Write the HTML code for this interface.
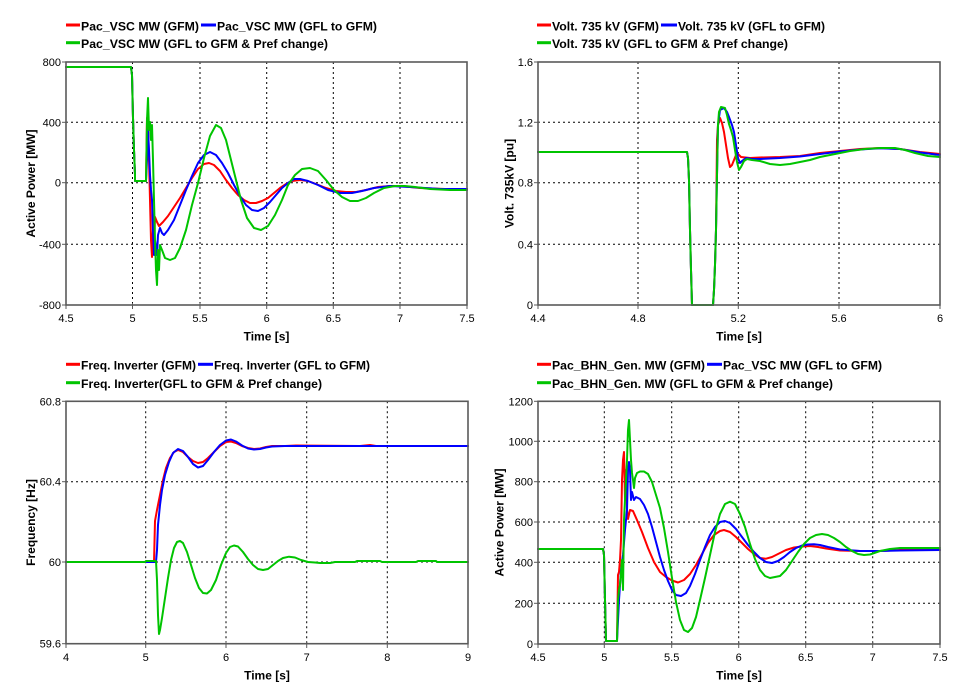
<!DOCTYPE html>
<html><head><meta charset="utf-8"><style>
html,body{margin:0;padding:0;background:#fff;}
svg{display:block;}
.t{font-family:"Liberation Sans",Arial,sans-serif;font-size:11px;fill:#000;}
.b{font-family:"Liberation Sans",Arial,sans-serif;font-size:12px;font-weight:bold;fill:#000;}
.g{stroke:#000;stroke-width:1;stroke-dasharray:2,3;fill:none;}
.f{stroke:#5a5a5a;stroke-width:1.6;fill:none;}
.k{stroke:#5a5a5a;stroke-width:1;}
.s{fill:none;stroke-width:2;stroke-linejoin:round;stroke-linecap:round;}
.r{stroke:#ff0000;} .u{stroke:#0000ff;} .n{stroke:#00c400;}
</style></head><body>
<svg width="969" height="686" viewBox="0 0 969 686" xmlns="http://www.w3.org/2000/svg">
<rect width="969" height="686" fill="#fff"/>

<!-- ================= TOP LEFT ================= -->
<rect x="66" y="23.5" width="14" height="3" fill="#ff0000"/>
<text class="b" x="81" y="30.5" textLength="118" lengthAdjust="spacingAndGlyphs">Pac_VSC MW (GFM)</text>
<rect x="201" y="23.5" width="15" height="3" fill="#0000ff"/>
<text class="b" x="217" y="30.5" textLength="160" lengthAdjust="spacingAndGlyphs">Pac_VSC MW (GFL to GFM)</text>
<rect x="66" y="41.2" width="14" height="3" fill="#00c400"/>
<text class="b" x="81" y="48" textLength="247" lengthAdjust="spacingAndGlyphs">Pac_VSC MW (GFL to GFM &amp; Pref change)</text>

<g class="g">
<line x1="132.5" y1="62" x2="132.5" y2="305"/><line x1="200" y1="62" x2="200" y2="305"/>
<line x1="266.7" y1="62" x2="266.7" y2="305"/><line x1="333.3" y1="62" x2="333.3" y2="305"/>
<line x1="400" y1="62" x2="400" y2="305"/>
<line x1="66" y1="122.3" x2="467" y2="122.3"/><line x1="66" y1="182.7" x2="467" y2="182.7"/>
<line x1="66" y1="244.3" x2="467" y2="244.3"/>
</g>
<g class="k">
<line x1="62" y1="62" x2="68" y2="62"/><line x1="62" y1="122.3" x2="68" y2="122.3"/><line x1="62" y1="182.7" x2="68" y2="182.7"/><line x1="62" y1="244.3" x2="68" y2="244.3"/><line x1="62" y1="305" x2="68" y2="305"/>
<line x1="66" y1="303" x2="66" y2="309"/><line x1="132.5" y1="303" x2="132.5" y2="309"/><line x1="200" y1="303" x2="200" y2="309"/><line x1="266.7" y1="303" x2="266.7" y2="309"/><line x1="333.3" y1="303" x2="333.3" y2="309"/><line x1="400" y1="303" x2="400" y2="309"/><line x1="467" y1="303" x2="467" y2="309"/>
</g>
<g class="t" text-anchor="end">
<text x="61" y="66">800</text><text x="61" y="126.3">400</text><text x="61" y="186.7">0</text><text x="61" y="248.3">-400</text><text x="61" y="309">-800</text>
</g>
<g class="t" text-anchor="middle">
<text x="66" y="322">4.5</text><text x="132.5" y="322">5</text><text x="200" y="322">5.5</text><text x="266.7" y="322">6</text><text x="333.3" y="322">6.5</text><text x="400" y="322">7</text><text x="467" y="322">7.5</text>
</g>
<text class="b" x="266.5" y="340.5" text-anchor="middle">Time [s]</text>
<text class="b" transform="translate(35,183.5) rotate(-90)" text-anchor="middle">Active Power [MW]</text>

<polyline class="s r" points="66,67 131,67 132,75 133,118 134,150 135,175 135,181 146,181 147,118 148,125 149,160 150,200 151,240 152,257 153,230 154,250 155,217 157,222 159,226 163,222 168,216 174,207 180,198 186,188 192,178 198,169 204,164 209,163 214,165 220,171 226,180 232,188 238,195 244,200 250,203 256,203 262,201 268,198 274,193 280,188 286,184 292,181 300,180 308,181 316,184 326,188 336,191 346,192 356,192 366,190 378,187 390,186 400,186 420,188 445,189 467,189"/>
<polyline class="s u" points="66,67 131,67 132,75 133,118 134,150 135,175 135,181 146,181 147,160 148,130 149,150 150,175 151,190 152,200 153,230 154,255 155,240 157,255 158,235 160,228 162,233 164,235 168,230 174,220 180,205 186,190 192,176 198,163 204,155 210,152 216,155 222,163 228,173 234,185 240,196 246,205 252,210 258,211 264,208 270,202 276,195 282,188 288,183 294,179 300,179 308,181 318,185 328,190 340,193 352,193 362,191 374,188 390,186 410,187 440,189 467,189"/>
<polyline class="s n" points="66,67 131,67 132,75 133,118 134,150 135,175 135,181 146,181 147,120 148,98 149,130 150,122 151,140 152,125 153,160 154,200 155,240 156,270 157,285 158,250 159,270 160,245 162,250 165,258 170,260 175,258 180,248 186,230 192,205 198,183 204,158 210,136 216,125 221,128 226,140 231,160 236,180 241,200 247,218 254,228 261,230 268,226 275,215 282,200 288,185 295,175 302,169 310,168 318,171 326,180 334,190 342,197 350,201 358,201 366,198 374,193 384,188 395,186 405,186 415,187 430,189 450,190 467,190"/>
<rect class="f" x="66" y="62" width="401" height="243"/>

<!-- ================= TOP RIGHT ================= -->
<rect x="537" y="23.5" width="14" height="3" fill="#ff0000"/>
<text class="b" x="552" y="30.5" textLength="107" lengthAdjust="spacingAndGlyphs">Volt. 735 kV (GFM)</text>
<rect x="661" y="23.5" width="16" height="3" fill="#0000ff"/>
<text class="b" x="678" y="30.5" textLength="147" lengthAdjust="spacingAndGlyphs">Volt. 735 kV (GFL to GFM)</text>
<rect x="537" y="41.2" width="14" height="3" fill="#00c400"/>
<text class="b" x="552" y="48" textLength="236" lengthAdjust="spacingAndGlyphs">Volt. 735 kV (GFL to GFM &amp; Pref change)</text>

<g class="g">
<line x1="638" y1="62" x2="638" y2="305"/><line x1="738.3" y1="62" x2="738.3" y2="305"/><line x1="839" y1="62" x2="839" y2="305"/>
<line x1="538" y1="122.3" x2="940" y2="122.3"/><line x1="538" y1="182.7" x2="940" y2="182.7"/><line x1="538" y1="244.3" x2="940" y2="244.3"/>
</g>
<g class="k">
<line x1="534" y1="62" x2="540" y2="62"/><line x1="534" y1="122.3" x2="540" y2="122.3"/><line x1="534" y1="182.7" x2="540" y2="182.7"/><line x1="534" y1="244.3" x2="540" y2="244.3"/><line x1="534" y1="305" x2="540" y2="305"/>
<line x1="538" y1="303" x2="538" y2="309"/><line x1="638" y1="303" x2="638" y2="309"/><line x1="738.3" y1="303" x2="738.3" y2="309"/><line x1="839" y1="303" x2="839" y2="309"/><line x1="940" y1="303" x2="940" y2="309"/>
</g>
<g class="t" text-anchor="end">
<text x="533" y="66">1.6</text><text x="533" y="126.3">1.2</text><text x="533" y="186.7">0.8</text><text x="533" y="248.3">0.4</text><text x="533" y="309">0</text>
</g>
<g class="t" text-anchor="middle">
<text x="538" y="322">4.4</text><text x="638" y="322">4.8</text><text x="738.3" y="322">5.2</text><text x="839" y="322">5.6</text><text x="940" y="322">6</text>
</g>
<text class="b" x="739" y="340.5" text-anchor="middle">Time [s]</text>
<text class="b" transform="translate(513.5,183.5) rotate(-90)" text-anchor="middle">Volt. 735kV [pu]</text>

<polyline class="s r" points="538,152 687,152 688,158 689,180 690,230 691,270 692,305 713,305 714,290 715,265 716,230 717,140 718,125 720,118 722,123 724,132 726,145 728,158 730,167 732,165 734,160 736,155 738,154 741,157 750,158 760,157.5 780,157 800,156 820,153 840,151 860,149 880,148 900,149 920,152 940,154"/>
<polyline class="s u" points="538,152 687,152 688,158 689,180 690,230 691,270 692,305 713,305 714,290 715,265 716,230 717,175 718,125 720,110 724,108 727,112 729,117 732,125 734,132 736,145 738,158 740,163 742,161 746,158 752,159 760,159 780,158 800,156.5 820,154 840,151.5 860,149.5 880,148.3 900,149 920,152.5 940,155"/>
<polyline class="s n" points="538,152 687,152 688,158 689,180 690,230 691,270 692,305 713,305 714,290 715,265 716,230 717,175 718,125 719,112 721,107 725,108 727,115 729,124 731,130 733,137 735,150 737,162 739,170 741,167 744,161 747,159 752,160 760,161 770,164 780,165 790,164 800,162 810,160 820,157 835,154 850,151 865,149 880,148 895,148 905,150 915,153 928,156 940,157"/>
<rect class="f" x="538" y="62" width="402" height="243"/>

<!-- ================= BOTTOM LEFT ================= -->
<rect x="66" y="362.8" width="14" height="3" fill="#ff0000"/>
<text class="b" x="81" y="369.5" textLength="115" lengthAdjust="spacingAndGlyphs">Freq. Inverter (GFM)</text>
<rect x="198" y="362.8" width="15" height="3" fill="#0000ff"/>
<text class="b" x="214" y="369.5" textLength="156" lengthAdjust="spacingAndGlyphs">Freq. Inverter (GFL to GFM)</text>
<rect x="66" y="381.2" width="14" height="3" fill="#00c400"/>
<text class="b" x="81" y="388" textLength="241" lengthAdjust="spacingAndGlyphs">Freq. Inverter(GFL to GFM &amp; Pref change)</text>

<g class="g">
<line x1="145.7" y1="401.3" x2="145.7" y2="643.7"/><line x1="226" y1="401.3" x2="226" y2="643.7"/><line x1="306.7" y1="401.3" x2="306.7" y2="643.7"/><line x1="387.3" y1="401.3" x2="387.3" y2="643.7"/>
<line x1="66" y1="481.7" x2="468" y2="481.7"/><line x1="66" y1="562" x2="468" y2="562"/>
</g>
<g class="k">
<line x1="62" y1="401.3" x2="68" y2="401.3"/><line x1="62" y1="481.7" x2="68" y2="481.7"/><line x1="62" y1="562" x2="68" y2="562"/><line x1="62" y1="643.7" x2="68" y2="643.7"/>
<line x1="66" y1="642" x2="66" y2="648"/><line x1="145.7" y1="642" x2="145.7" y2="648"/><line x1="226" y1="642" x2="226" y2="648"/><line x1="306.7" y1="642" x2="306.7" y2="648"/><line x1="387.3" y1="642" x2="387.3" y2="648"/><line x1="468" y1="642" x2="468" y2="648"/>
</g>
<g class="t" text-anchor="end">
<text x="61" y="405.3">60.8</text><text x="61" y="485.7">60.4</text><text x="61" y="566">60</text><text x="61" y="647.7">59.6</text>
</g>
<g class="t" text-anchor="middle">
<text x="66" y="661">4</text><text x="145.7" y="661">5</text><text x="226" y="661">6</text><text x="306.7" y="661">7</text><text x="387.3" y="661">8</text><text x="468" y="661">9</text>
</g>
<text class="b" x="267" y="679.5" text-anchor="middle">Time [s]</text>
<text class="b" transform="translate(35,522.5) rotate(-90)" text-anchor="middle">Frequency [Hz]</text>

<polyline class="s r" points="66,562 154,562 155,521 157,510 158,505 160,495 163,480 166,468 170,458 174,452 178,450 183,452 188,457 193,461 198,463 203,462 208,458 214,452 220,446 226,442 231,441.5 236,443 242,446 248,448 254,449 260,448.5 266,447 272,446 285,446 296,445.5 360,446 370,445 376,446 468,446"/>
<polyline class="s u" points="66,562 156,562 157,550 158,525 160,505 162,490 165,475 169,462 173,453 178,449 183,451 188,457 193,464 198,467.5 203,466 208,460 214,452 220,445 226,440.5 231,439.5 236,441.5 242,445.5 248,448.5 254,449.5 260,449 266,447.5 272,446.5 285,446 468,446"/>
<polyline class="s n" points="66,562 145,562 146,561 156,561 157,580 158,615 159,634 160,630 162,618 165,598 168,578 171,560 174,548 177,542 180,541 183,543 187,552 191,565 195,578 199,588 203,593 207,593.5 211,590 216,580 221,565 226,553 230,547 234,545.5 238,546.5 243,552 248,559 253,565 258,569 263,570 268,569 273,565 278,561 283,558 289,556.7 295,557.5 301,560 308,562 315,562.5 320,563 330,563 335,562 355,562 357,561 380,561 382,562 416,562 418,561 436,561 437,562 468,562"/>
<rect class="f" x="66" y="401.3" width="402" height="242.4"/>

<!-- ================= BOTTOM RIGHT ================= -->
<rect x="537" y="362.8" width="14" height="3" fill="#ff0000"/>
<text class="b" x="552" y="369.5" textLength="153" lengthAdjust="spacingAndGlyphs">Pac_BHN_Gen. MW (GFM)</text>
<rect x="707" y="362.8" width="15" height="3" fill="#0000ff"/>
<text class="b" x="723" y="369.5" textLength="159" lengthAdjust="spacingAndGlyphs">Pac_VSC MW (GFL to GFM)</text>
<rect x="537" y="381.2" width="14" height="3" fill="#00c400"/>
<text class="b" x="552" y="388" textLength="281" lengthAdjust="spacingAndGlyphs">Pac_BHN_Gen. MW (GFL to GFM &amp; Pref change)</text>

<g class="g">
<line x1="604.3" y1="401.3" x2="604.3" y2="644"/><line x1="671.7" y1="401.3" x2="671.7" y2="644"/><line x1="738.7" y1="401.3" x2="738.7" y2="644"/><line x1="805.7" y1="401.3" x2="805.7" y2="644"/><line x1="872.7" y1="401.3" x2="872.7" y2="644"/>
<line x1="538" y1="441.3" x2="940" y2="441.3"/><line x1="538" y1="481.7" x2="940" y2="481.7"/><line x1="538" y1="522" x2="940" y2="522"/><line x1="538" y1="562.3" x2="940" y2="562.3"/><line x1="538" y1="603.3" x2="940" y2="603.3"/>
</g>
<g class="k">
<line x1="534" y1="401.3" x2="540" y2="401.3"/><line x1="534" y1="441.3" x2="540" y2="441.3"/><line x1="534" y1="481.7" x2="540" y2="481.7"/><line x1="534" y1="522" x2="540" y2="522"/><line x1="534" y1="562.3" x2="540" y2="562.3"/><line x1="534" y1="603.3" x2="540" y2="603.3"/><line x1="534" y1="644" x2="540" y2="644"/>
<line x1="538" y1="642" x2="538" y2="648"/><line x1="604.3" y1="642" x2="604.3" y2="648"/><line x1="671.7" y1="642" x2="671.7" y2="648"/><line x1="738.7" y1="642" x2="738.7" y2="648"/><line x1="805.7" y1="642" x2="805.7" y2="648"/><line x1="872.7" y1="642" x2="872.7" y2="648"/><line x1="940" y1="642" x2="940" y2="648"/>
</g>
<g class="t" text-anchor="end">
<text x="533" y="405.3">1200</text><text x="533" y="445.3">1000</text><text x="533" y="485.7">800</text><text x="533" y="526">600</text><text x="533" y="566.3">400</text><text x="533" y="607.3">200</text><text x="533" y="648">0</text>
</g>
<g class="t" text-anchor="middle">
<text x="538" y="661">4.5</text><text x="604.3" y="661">5</text><text x="671.7" y="661">5.5</text><text x="738.7" y="661">6</text><text x="805.7" y="661">6.5</text><text x="872.7" y="661">7</text><text x="940" y="661">7.5</text>
</g>
<text class="b" x="739" y="679.5" text-anchor="middle">Time [s]</text>
<text class="b" transform="translate(503.5,522.5) rotate(-90)" text-anchor="middle">Active Power [MW]</text>

<polyline class="s r" points="538,549 603,549 604,555 605,600 606,641 617,641 618,575 619,572 620,560 621,540 622,480 623,460 624,452 625,500 626,470 627,510 628,519 630,510 633,511 637,520 642,532 648,548 654,562 660,572 666,577 672,580.5 678,582.5 684,580 690,574 696,565 702,554 708,543 714,535 720,531 724,530 730,532 736,537 742,543 748,549 754,554 760,558 766,558.7 772,557 778,554 786,550 794,547.5 802,546.5 810,546 818,547 826,548.5 840,550.5 860,551 880,551 900,550 940,550"/>
<polyline class="s u" points="538,549 603,549 604,555 605,600 606,641 617,641 619,600 621,570 623,555 625,530 627,510 628,470 629,462 630,470 631,500 632,492 634,500 636,497 640,499 644,505 648,514 652,527 656,542 660,557 664,570 668,581 672,590 676,595 681,596 686,593 690,586 695,574 700,560 705,547 710,535 715,527 720,522 725,521 730,523 736,529 742,537 748,545 754,552 760,558 766,562 772,563 778,561 784,557 790,552 796,548 802,545.5 808,544.5 814,544.3 820,545 828,547 840,549.5 860,551 880,551 900,550.5 940,550"/>
<polyline class="s n" points="538,549 603,549 604,555 605,600 606,641 617,641 618,600 619,590 620,585 622,560 623,590 624,520 626,480 627,460 628,430 629,420 630,440 631,460 632,473 633,480 634,488 635,478 637,473 640,471.5 644,471.5 648,474 652,482 656,495 660,508 664,528 668,552 672,578 676,602 680,620 684,630 688,632 692,628 696,617 700,600 705,578 710,555 715,532 720,514 725,504 730,501.7 735,504 740,514 745,527 750,544 755,559 760,570 765,576 770,578 775,577 780,576 786,570 792,561 798,552 804,544 810,538 816,535 822,534 828,535 834,538 840,542 846,547 852,551 858,554 864,555 870,554.5 880,551 890,549 900,548 920,548 940,548"/>
<rect class="f" x="538" y="401.3" width="402" height="242.7"/>
</svg>
</body></html>
